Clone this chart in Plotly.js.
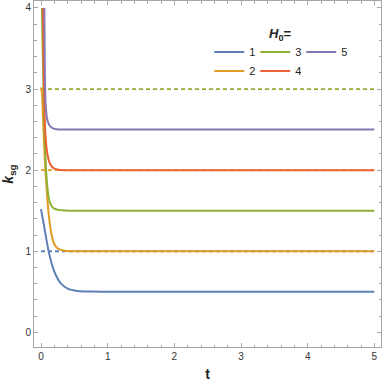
<!DOCTYPE html>
<html>
<head>
<meta charset="utf-8">
<script src="https://cdn.plot.ly/plotly-3.0.1.min.js"></script>
<style>html,body{margin:0;padding:0;background:#fff;}#plot{width:382px;height:382px;}</style>
</head>
<body>
<div id="plot"></div>
<script>
// H0 values and curve colours
const h0Labels = ["1", "2", "3", "4", "5"];
const colors = ["#5E81B5", "#E19C24", "#8FB032", "#EB6235", "#8778B3"];

// k_sg(t) (curves clipped at the top of the frame)
const t1 = [0, 0.04, 0.08, 0.12, 0.17, 0.22, 0.3, 0.4, 0.55, 0.75, 1.0, 1.4, 2.0, 2.8, 3.8, 5];
const k1 = [1.52, 1.34, 1.15, 0.98, 0.82, 0.71, 0.60, 0.54, 0.51, 0.502, 0.50, 0.50, 0.50, 0.50, 0.50, 0.50];

const t2 = [0, 0.015, 0.03, 0.05, 0.07, 0.095, 0.12, 0.15, 0.18, 0.22, 0.27, 0.35, 0.45, 0.6, 0.8, 1.1, 1.5, 2.1, 2.9, 3.9, 5];
const k2 = [3.02, 2.95, 2.65, 2.25, 1.95, 1.65, 1.42, 1.24, 1.13, 1.06, 1.025, 1.007, 1.0, 1.0, 1.0, 1.0, 1.0, 1.0, 1.0, 1.0, 1.0];

const t3 = [0.014, 0.03, 0.045, 0.06, 0.075, 0.09, 0.11, 0.13, 0.16, 0.2, 0.26, 0.35, 0.45, 0.6, 0.8, 1.1, 1.5, 2.1, 2.9, 3.9, 5];
const k3 = [4.0, 3.3, 2.7, 2.3, 2.02, 1.84, 1.69, 1.61, 1.555, 1.525, 1.51, 1.502, 1.5, 1.5, 1.5, 1.5, 1.5, 1.5, 1.5, 1.5, 1.5];

const t4 = [0.028, 0.04, 0.05, 0.062, 0.08, 0.1, 0.125, 0.16, 0.2, 0.26, 0.35, 0.45, 0.6, 0.8, 1.1, 1.5, 2.1, 2.9, 3.9, 5];
const k4 = [4.0, 3.3, 2.8, 2.5, 2.3, 2.18, 2.1, 2.045, 2.02, 2.005, 2.0, 2.0, 2.0, 2.0, 2.0, 2.0, 2.0, 2.0, 2.0, 2.0];

const t5 = [0.05, 0.055, 0.06, 0.065, 0.075, 0.09, 0.11, 0.14, 0.18, 0.24, 0.3, 0.4, 0.55, 0.75, 1.0, 1.4, 2.0, 2.8, 3.8, 5];
const k5 = [4.0, 3.45, 3.1, 2.9, 2.75, 2.64, 2.58, 2.54, 2.515, 2.503, 2.5, 2.5, 2.5, 2.5, 2.5, 2.5, 2.5, 2.5, 2.5, 2.5];

// dashed reference levels
const dashLevels = [1, 2, 3];
const dashColors = ["#5E81B5", "#E19C24", "#8FB032"];
const dashT = [0, 5];

// axis ticks
const xTicks = [0, 1, 2, 3, 4, 5];
const yTicks = [0, 1, 2, 3, 4];

const ts = [t1, t2, t3, t4, t5];
const ks = [k1, k2, k3, k4, k5];

const traces = [];
dashLevels.forEach((lv, i) => {
  traces.push({
    x: dashT, y: [lv, lv], mode: "lines", showlegend: false, hoverinfo: "skip",
    line: {color: dashColors[i], width: 1.8, dash: "4px,3px"}
  });
});
const legendOf = ["legend", "legend2", "legend", "legend2", "legend"];
ts.forEach((t, i) => {
  traces.push({
    x: t, y: ks[i], mode: "lines", name: h0Labels[i],
    legend: legendOf[i],
    line: {color: colors[i], width: 2, shape: "spline", smoothing: 0.5}
  });
});

const axisCommon = {
  showline: true, linecolor: "#a6a6a6", linewidth: 1, mirror: "ticks",
  ticks: "inside", ticklen: 4, tickwidth: 1, tickcolor: "#a6a6a6",
  showgrid: false, zeroline: false,
  tickfont: {family: "Liberation Sans, Arial, sans-serif", size: 10, color: "#333"},
  minor: {dtick: 0.2, ticks: "inside", ticklen: 2.5, tickwidth: 1, tickcolor: "#a6a6a6", showgrid: false}
};

const legendCommon = {
  orientation: "h", bgcolor: "rgba(0,0,0,0)", borderwidth: 0,
  font: {family: "Liberation Sans, Arial, sans-serif", size: 11, color: "#222"},
  itemwidth: 30, tracegroupgap: 0, xanchor: "left", yanchor: "middle",
  entrywidth: 1, entrywidthmode: "pixels"
};

const layout = {
  width: 382, height: 382,
  margin: {l: 34, r: 1, t: 1, b: 35},
  paper_bgcolor: "#fff", plot_bgcolor: "#fff",
  xaxis: Object.assign({}, axisCommon, {
    range: [-0.105, 5.1], tickvals: xTicks, ticktext: xTicks.map(String),
    title: {text: "<b>t</b>", font: {family: "Liberation Sans, Arial, sans-serif", size: 14, color: "#222"}, standoff: 10}
  }),
  yaxis: Object.assign({}, axisCommon, {
    range: [-0.181, 4.086], tickvals: yTicks, ticktext: yTicks.map(String),
    title: {text: "<b><i>k</i></b><sub><b>sg</b></sub>", font: {family: "Liberation Sans, Arial, sans-serif", size: 14, color: "#222"}, standoff: 8}
  }),
  legend: Object.assign({}, legendCommon, {x: 0.505, y: 0.8526}),
  legend2: Object.assign({}, legendCommon, {x: 0.505, y: 0.7977}),
  annotations: [{
    xref: "paper", yref: "paper", x: 0.71, y: 0.902, xanchor: "center", yanchor: "middle",
    text: "<b><i>H</i></b><sub><b>0</b></sub><b>=</b>", showarrow: false,
    font: {family: "Liberation Sans, Arial, sans-serif", size: 13, color: "#222"}
  }]
};

Plotly.newPlot("plot", traces, layout, {staticPlot: true, displayModeBar: false});
</script>
</body>
</html>
